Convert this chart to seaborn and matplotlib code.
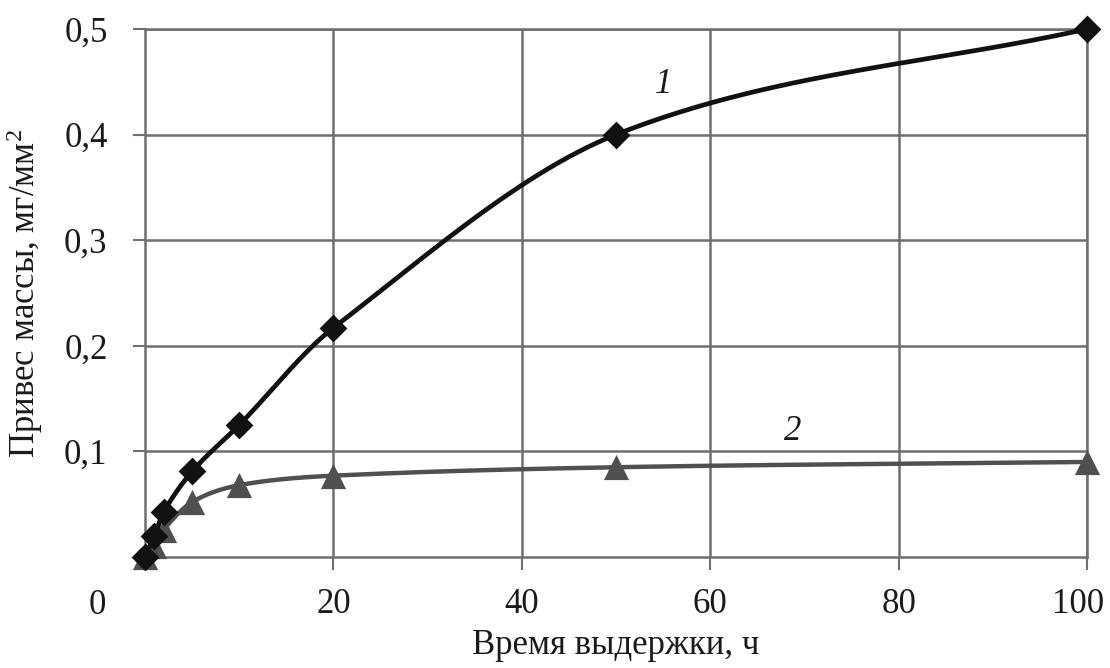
import numpy as np
import pandas as pd
import matplotlib
matplotlib.use("Agg")
import matplotlib.pyplot as plt
import matplotlib.transforms as mtrans
import seaborn as sns

# ---- data ----
time_h = [0, 1, 2, 5, 10, 20, 50, 100]
gain_1 = [0.0, 0.020, 0.043, 0.081, 0.125, 0.217, 0.400, 0.500]
gain_2 = [0.0, 0.010, 0.026, 0.052, 0.068, 0.077, 0.085, 0.090]
x_ticks = [20, 40, 60, 80, 100]
y_ticks = [0.1, 0.2, 0.3, 0.4, 0.5]
y_tick_labels = ["0,1", "0,2", "0,3", "0,4", "0,5"]
x_label = "Время выдержки, ч"
y_label = "Привес массы, мг/мм$^{2}$"
curve_labels = ["1", "2"]

sns.set_theme(style="white")
plt.rcParams["font.family"] = ["Liberation Serif", "DejaVu Serif"]
plt.rcParams["mathtext.fontset"] = "custom"
plt.rcParams["mathtext.rm"] = "Liberation Serif"
plt.rcParams["mathtext.it"] = "Liberation Serif:italic"


def smooth(xs, ys, n=60):
    """Smooth line through the points: cubic Hermite in x with centred-difference tangents."""
    x = np.asarray(xs, float)
    y = np.asarray(ys, float)
    m = np.empty_like(y)
    m[0] = (y[1] - y[0]) / (x[1] - x[0])
    m[-1] = (y[-1] - y[-2]) / (x[-1] - x[-2])
    for i in range(1, len(x) - 1):
        m[i] = (y[i + 1] - y[i - 1]) / (x[i + 1] - x[i - 1])
    X, Y = [], []
    for i in range(len(x) - 1):
        h = x[i + 1] - x[i]
        t = np.linspace(0, 1, n)
        if i > 0:
            t = t[1:]
        h00 = 2 * t ** 3 - 3 * t ** 2 + 1
        h10 = t ** 3 - 2 * t ** 2 + t
        h01 = -2 * t ** 3 + 3 * t ** 2
        h11 = t ** 3 - t ** 2
        X.append(x[i] + t * h)
        Y.append(h00 * y[i] + h10 * h * m[i] + h01 * y[i + 1] + h11 * h * m[i + 1])
    return np.concatenate(X), np.concatenate(Y)


fig = plt.figure(figsize=(11.10, 6.68), dpi=100)
ax = fig.add_axes([145 / 1110, 1 - 557 / 668, (1087 - 145) / 1110, (557 - 29) / 668])

grid_c = "#6f6f6f"
ax.set_xlim(0, 100)
ax.set_ylim(0, 0.5)
ax.set_xticks(x_ticks)
ax.set_yticks(y_ticks)
ax.set_yticklabels(y_tick_labels)
ax.grid(True, color=grid_c, linewidth=1.8)
for s in ax.spines.values():
    s.set_color(grid_c)
    s.set_linewidth(1.8)
ax.tick_params(axis="both", which="major", direction="out", length=9, width=1.5,
               color=grid_c, labelsize=25, labelcolor="#1a1a1a")
ax.tick_params(axis="x", pad=13, bottom=True)
ax.tick_params(axis="y", pad=18, left=True)

c1 = "#111111"
c2 = "#505050"

sx1, sy1 = smooth(time_h, gain_1)
sx2, sy2 = smooth(time_h, gain_2)
sns.lineplot(x=sx2, y=sy2, ax=ax, color=c2, linewidth=3.2, sort=False, estimator=None, zorder=3)
sns.scatterplot(x=time_h, y=gain_2, ax=ax, marker="^", s=330, color=c2, edgecolor=c2,
                linewidth=0, zorder=4, clip_on=False)
sns.lineplot(x=sx1, y=sy1, ax=ax, color=c1, linewidth=3.4, sort=False, estimator=None, zorder=5)
sns.scatterplot(x=time_h, y=gain_1, ax=ax, marker="D", s=200, color=c1, edgecolor=c1,
                linewidth=0, zorder=6, clip_on=False)

ax.text(55, 0.447, curve_labels[0], fontsize=25, style="italic", ha="center", va="center", color="#1a1a1a")
ax.text(68.8, 0.119, curve_labels[1], fontsize=25, style="italic", ha="center", va="center", color="#1a1a1a")

# corner "0" label
ax.text(-0.051, -0.092, "0", transform=ax.transAxes, fontsize=25, ha="center", va="center", color="#1a1a1a")

ax.set_xlabel(x_label, fontsize=25, color="#1a1a1a", labelpad=6)
ax.set_ylabel(y_label, fontsize=25, color="#1a1a1a", labelpad=14)

# nudge the last x tick label inward a little, as in the reference
fig.canvas.draw()
last = ax.get_xticklabels()[-1]
last.set_transform(last.get_transform() + mtrans.ScaledTranslation(-9 / 100, 0, fig.dpi_scale_trans))

fig.savefig("out.png", dpi=100, facecolor="white")
